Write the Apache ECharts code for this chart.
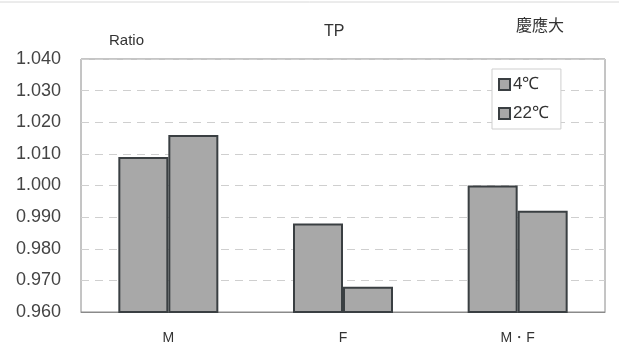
<!DOCTYPE html>
<html>
<head>
<meta charset="utf-8">
<script src="https://cdn.jsdelivr.net/npm/echarts@6/dist/echarts.min.js"></script>
<style>
  html, body { margin: 0; padding: 0; background: #fff; }
  #chart { width: 619px; height: 355px; }
</style>
</head>
<body>
<div id="chart"></div>
<script>
// Groups along the x axis
const categories = ['M', 'F', 'M・F'];
// Ratio values per storage temperature
const series4C = [1.009, 0.988, 1.000];
const series22C = [1.016, 0.968, 0.992];
const seriesNames = ['4℃', '22℃'];
// Value axis range
const yMin = 0.96, yMax = 1.04, yStep = 0.01;

const chart = echarts.init(document.getElementById('chart'), null, { renderer: 'canvas' });
const font = '"Liberation Sans", Arial, sans-serif';
const barStyle = { color: '#a8a8a8', borderColor: '#3a3f42', borderWidth: 2 };

chart.setOption({
  backgroundColor: '#fff',
  animation: false,
  graphic: [
    { type: 'line', shape: { x1: 0, y1: 2, x2: 619, y2: 2 }, style: { stroke: '#d8d8d8', lineWidth: 1 } },
    { type: 'text', left: 109, top: 33, style: { text: 'Ratio', fontSize: 15, fill: '#333', fontFamily: font } },
    { type: 'text', left: 324, top: 24, style: { text: 'TP', fontSize: 16, fill: '#333', fontFamily: font } },
    { type: 'text', left: 516, top: 17, style: { text: '慶應大', fontSize: 16, fill: '#333', fontFamily: '"Noto Sans CJK JP", sans-serif' } }
  ],
  legend: {
    orient: 'vertical',
    left: 492,
    top: 69,
    padding: [7, 12, 7, 6],
    itemGap: 12,
    itemWidth: 11,
    itemHeight: 11,
    borderColor: '#cfcfcf',
    borderWidth: 1,
    backgroundColor: '#fff',
    textStyle: { fontSize: 17, color: '#333', fontFamily: font, padding: [0, 0, 0, -2] },
    data: seriesNames.map(n => ({ name: n, icon: 'rect' }))
  },
  grid: {
    left: 81, top: 59, width: 524, height: 253,
    show: true, borderColor: '#8a8a8a', borderWidth: 1, backgroundColor: 'transparent'
  },
  xAxis: {
    type: 'category',
    data: categories,
    axisTick: { show: false },
    axisLine: { show: true, lineStyle: { color: '#8a8a8a' } },
    axisLabel: { fontSize: 14, color: '#333', margin: 19, fontFamily: font }
  },
  yAxis: {
    type: 'value',
    min: yMin, max: yMax, interval: yStep,
    axisLine: { show: false },
    axisTick: { show: false },
    axisLabel: {
      fontSize: 18, color: '#444', margin: 20, fontFamily: font,
      formatter: v => v.toFixed(3)
    },
    splitLine: { show: true, lineStyle: { color: '#cfcfcf', type: [8, 6], width: 1 } }
  },
  series: [
    { name: seriesNames[0], type: 'bar', data: series4C, barWidth: 50, barGap: '0%', itemStyle: barStyle },
    { name: seriesNames[1], type: 'bar', data: series22C, barWidth: 50, barGap: '0%', itemStyle: barStyle }
  ]
});
</script>
</body>
</html>
